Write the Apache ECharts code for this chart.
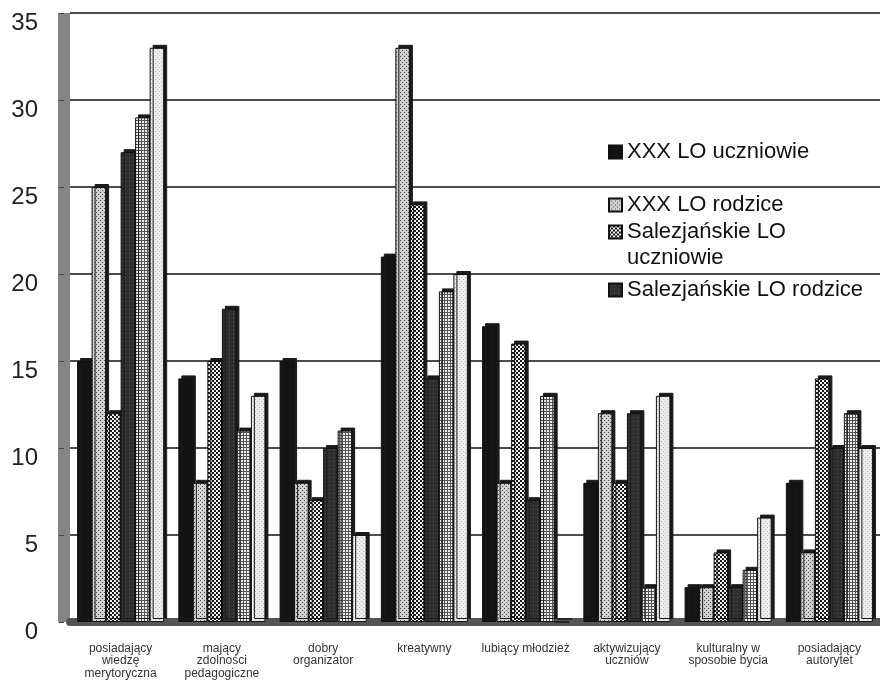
<!DOCTYPE html>
<html>
<head>
<meta charset="utf-8">
<script src="https://cdn.jsdelivr.net/npm/echarts@6/dist/echarts.min.js"></script>
<style>
  html, body { margin: 0; padding: 0; background: #fff; }
  #chart { width: 880px; height: 685px; }
</style>
</head>
<body>
<div id="chart"></div>
<script>
// dane
const categories = [
  'posiadający\nwiedzę\nmerytoryczna',
  'mający\nzdolności\npedagogiczne',
  'dobry\norganizator',
  'kreatywny',
  'lubiący młodzież',
  'aktywizujący\nuczniów',
  'kulturalny w\nsposobie bycia',
  'posiadający\nautorytet'
];
const seriesNames = [
  'XXX LO uczniowie',
  'XXX LO rodzice',
  'Salezjańskie LO uczniowie',
  'Salezjańskie LO rodzice',
  'XXX LO nauczyciele',
  'Salezjańskie LO nauczyciele'
];
const xxxUczniowie = [15, 14, 15, 21, 17, 8, 2, 8];
const xxxRodzice = [25, 8, 8, 33, 8, 12, 2, 4];
const salUczniowie = [12, 15, 7, 24, 16, 8, 4, 14];
const salRodzice = [27, 18, 10, 14, 7, 12, 2, 10];
const xxxNauczyciele = [29, 11, 11, 19, 13, 2, 3, 12];
const salNauczyciele = [33, 13, 5, 20, 0, 13, 6, 10];
const yTicks = [0, 5, 10, 15, 20, 25, 30, 35];

// wzory wypełnienia (czarno-białe jak w oryginale)
function pattern(size, draw) {
  const c = document.createElement('canvas');
  c.width = size; c.height = size;
  draw(c.getContext('2d'));
  return { image: c, repeat: 'repeat' };
}
const fills = [
  '#141414',
  pattern(4, function (g) {
    g.fillStyle = '#d0d0d0'; g.fillRect(0, 0, 4, 4);
    g.fillStyle = '#555'; g.fillRect(0, 0, 1, 1); g.fillRect(2, 2, 1, 1);
  }),
  pattern(4, function (g) {
    g.fillStyle = '#f4f4f4'; g.fillRect(0, 0, 4, 4);
    g.fillStyle = '#1a1a1a'; g.fillRect(0, 0, 2, 2); g.fillRect(2, 2, 2, 2);
  }),
  pattern(4, function (g) {
    g.fillStyle = '#2e2e2e'; g.fillRect(0, 0, 4, 4);
    g.fillStyle = '#555'; g.fillRect(1, 1, 1, 1);
  }),
  pattern(3, function (g) {
    g.fillStyle = '#f0f0f0'; g.fillRect(0, 0, 3, 3);
    g.fillStyle = '#555'; g.fillRect(0, 0, 3, 1); g.fillRect(0, 0, 1, 3);
  }),
  pattern(4, function (g) {
    g.fillStyle = '#ececec'; g.fillRect(0, 0, 4, 4);
    g.fillStyle = '#bdbdbd'; g.fillRect(1, 1, 1, 1); g.fillRect(3, 3, 1, 1);
  })
];
const values = [xxxUczniowie, xxxRodzice, salUczniowie, salRodzice, xxxNauczyciele, salNauczyciele];

const chart = echarts.init(document.getElementById('chart'));
const font = '"Liberation Sans", Arial, sans-serif';

function legendFor(name, top, extra) {
  return Object.assign({
    data: [name],
    left: 608,
    top: top,
    padding: 0,
    icon: 'rect',
    itemWidth: 13,
    itemHeight: 13,
    itemGap: 0,
    selectedMode: false,
    textStyle: { fontFamily: font, fontSize: 22, color: '#111' }
  }, extra || {});
}

chart.setOption({
  backgroundColor: '#fff',
  animation: false,
  legend: [
    legendFor(seriesNames[0], 141),
    legendFor(seriesNames[1], 194),
    legendFor(seriesNames[2], 193, {
      formatter: function () { return '\nSalezjańskie LO\nuczniowie'; },
      textStyle: { fontFamily: font, fontSize: 22, color: '#111', lineHeight: 26 }
    }),
    legendFor(seriesNames[3], 279)
  ],
  grid: { left: 70, right: 0, top: 13, bottom: 63 },
  xAxis: {
    type: 'category',
    data: categories,
    offset: 4,
    axisLine: { lineStyle: { color: '#555', width: 8 } },
    axisTick: { show: true, alignWithLabel: false, length: 4, lineStyle: { color: '#555' } },
    axisLabel: { fontFamily: font, fontSize: 12, color: '#333', lineHeight: 12.5, margin: 16, interval: 0 }
  },
  yAxis: {
    type: 'value',
    min: yTicks[0],
    max: yTicks[yTicks.length - 1],
    interval: 5,
    offset: 6,
    axisLine: { show: true, lineStyle: { color: '#858585', width: 12, cap: 'butt' } },
    axisTick: { show: true, length: 5, lineStyle: { color: '#444' } },
    axisLabel: { fontFamily: font, fontSize: 24, color: '#222', margin: 26, verticalAlign: 'top', lineHeight: 20 },
    splitLine: { lineStyle: { color: '#111', width: 1.5 } }
  },
  series: values.map(function (data, i) {
    return {
      name: seriesNames[i],
      type: 'bar',
      data: data,
      barGap: '0%',
      barCategoryGap: '14%',
      itemStyle: {
        color: fills[i],
        borderColor: '#111',
        borderWidth: 1,
        shadowColor: '#1a1a1a',
        shadowBlur: 0,
        shadowOffsetX: 3,
        shadowOffsetY: -3
      }
    };
  })
});
</script>
</body>
</html>
